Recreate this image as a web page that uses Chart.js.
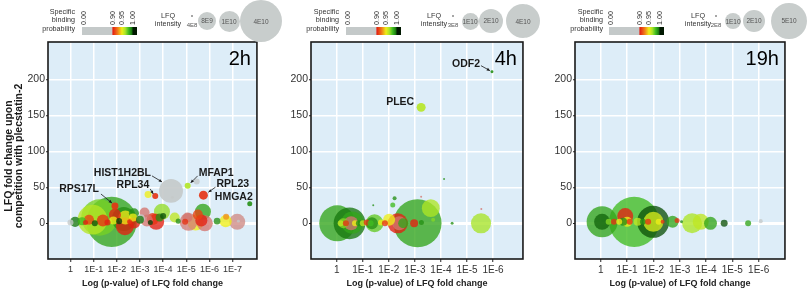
<!DOCTYPE html>
<html>
<head>
<meta charset="utf-8">
<script src="https://cdn.jsdelivr.net/npm/chart.js@4.4.1/dist/chart.umd.min.js"></script>
<style>
  body { margin: 0; background: #fff; font-family: "Liberation Sans", Arial, sans-serif; }
  #wrap { position: relative; width: 810px; height: 291px; overflow: hidden; }
  #wrap canvas { position: absolute; top: 0; }
  .lg { position: absolute; color: #333; font-size: 7.2px; line-height: 8.3px; white-space: nowrap; }
  .bar { position: absolute; height: 8px; }
  .rot { transform: rotate(-90deg); transform-origin: 0 0; }
  .dot { position: absolute; border-radius: 50%; background: #c8cdcc; color: #555; font-size: 6.5px;
         display: flex; align-items: center; justify-content: center; }
</style>
</head>
<body>
<div id="wrap">
  <canvas id="c1" width="282" height="291" style="left:0px"></canvas>
  <canvas id="c2" width="265" height="291" style="left:282px"></canvas>
  <canvas id="c3" width="263" height="291" style="left:547px"></canvas>
</div>
<script>
// x = -log10(p-value), y = LFQ fold change, int = LFQ intensity, prob = specific binding probability

// ── 2h ──
const p1Named     = ['RPS17L', 'RPL34', 'HIST1H2BL', 'MFAP1', 'RPL23', 'HMGA2'];
const p1NamedX    = [1.92, 3.66, 4.34, 5.06, 5.74, 7.74];
const p1NamedY    = [24, 38, 45, 52, 39, 27];
const p1NamedInt  = [1.1e9, 8.2e8, 1.3e10, 8.2e8, 1.8e9, 5.7e8];
const p1NamedProb = [0.905, 0.905, 0.2, 0.963, 0.905, 0.99];

const p1X    = [1.78, 1.25, 0.95, 2.3, 2.35, 3.95, 3.7, 5.4, 5.72, 7.2, 5.1, 5.8, 2.37, 2.75, 1.4, 1.92, 3.55,
                5.65, 6.7, 3.3, 4.5, 2.74, 3.2, 0.8, 0.2, 5.5, 5.05, 3.04, 1.85, 2.7, 3.0, 3.85, 0.5, 3.35,
                5.45, 0.0, 6.33, 6.72, 4.0, 4.65, 4.95, 4.4, 7.25, 1.05, 1.6, 2.1, 2.55, 3.45, 0.65];
const p1Y    = [2, 8, 5, 6, -4, 16, 2, 1, 16, 2, 2, 0, 8, 1, 4, 12, 6,
                4, 3, 4, 8, 14, 15, 5, 2, 12, 8, 7, 4, 8, 5, 8, 3, 40,
                58, 1, 3, 9, 10, 3, 2, 36, 3, 0, 1, 3, 2, 1, 1];
const p1Int  = [5.7e10, 3.0e10, 2.0e10, 1.3e10, 7.3e9, 5.8e9, 5.8e9, 5.8e9, 5.8e9, 5.8e9, 7.3e9, 5.8e9, 4.4e9,
                3.3e9, 3.3e9, 3.3e9, 3.3e9, 3.3e9, 3.3e9, 3.3e9, 2.3e9, 2.3e9, 2.3e9, 2.3e9, 2.3e9, 2.3e9, 2.3e9,
                1.45e9, 1.45e9, 1.45e9, 1.45e9, 1.45e9, 1.45e9, 1.1e9, 8.2e8, 8.2e8, 1.0e9, 8.2e8, 8.2e8, 5.7e8,
                8.2e8, 2.0e8, 2.0e8, 8.2e8, 8.2e8, 8.2e8, 5.7e8, 5.7e8, 5.7e8];
const p1Prob = [0.985, 0.972, 0.962, 0.99, 0.9, 0.968, 0.9, 0.95, 0.985, 0.875, 0.878, 0.88, 0.948, 0.9, 0.905,
                0.9, 0.905, 0.9, 0.95, 0.88, 0.96, 0.99, 0.88, 0.91, 0.995, 0.91, 0.88, 0.2, 0.95, 0.95, 0.995,
                0.99, 0.98, 0.95, 0.3, 0.3, 0.99, 0.93, 0.997, 0.99, 0.905, 0.4, 0.3, 0.997, 0.9, 0.998, 0.905,
                0.998, 0.9];

// ── 4h ──
const p2Named     = ['ODF2', 'PLEC'];
const p2NamedX    = [5.96, 3.24];
const p2NamedY    = [210.6, 161];
const p2NamedInt  = [3.1e8, 2.8e9];
const p2NamedProb = [0.99, 0.962];

const p2X    = [3.1, 0.02, 0.49, 0.6, 5.54, 2.34, 1.45, 3.61, 0.55, 2.4, 2.01, 1.35, 0.25, 2.55, 2.97,
                0.15, 0.35, 0.7, 0.85, 1.0, 1.15, 1.3, 1.7, 1.85, 2.15, 2.22, 3.25, 3.7, 1.4, 4.12, 3.24, 4.43, 5.55];
const p2Y    = [0, 0, 0, 1, 0, 0, 0, 21, 0, 0, 5, 0, 0, 0, 0,
                0, 0, 0, 0, 0, 1, 0, 1, 0, 25.4, 34.7, 1, 5, 25, 61.5, 37, 0, 20];
const p2Int  = [8.0e10, 4.5e10, 3.5e10, 1.7e10, 1.4e10, 1.4e10, 1.1e10, 1.1e10, 6.8e9, 6.8e9, 5.0e9, 5.0e9, 3.5e9,
                3.5e9, 2.2e9, 1.25e9, 1.25e9, 1.25e9, 1.25e9, 1.25e9, 1.25e9, 1.25e9, 1.25e9, 1.25e9, 8.7e8,
                5.5e8, 8.7e8, 5.5e8, 1.4e8, 1.4e8, 1.4e8, 3.1e8, 1.4e8];
const p2Prob = [0.985, 0.985, 0.995, 0.985, 0.965, 0.9, 0.975, 0.964, 0.88, 0.88, 0.95, 0.99, 0.97, 0.985, 0.9,
                0.96, 0.905, 0.95, 0.99, 0.96, 0.905, 0.98, 0.95, 0.905, 0.98, 0.99, 0.99, 0.97, 0.99, 0.99,
                0.88, 0.99, 0.88];

// ── 19h ──
const p3X    = [1.27, 0.05, 1.99, 2.0, 3.47, 0.93, 3.8, 0.05, 4.17, 2.73, 1.0, 0.85, 1.4,
                0.3, 0.5, 0.7, 1.1, 1.6, 1.8, 2.2, 2.35, 4.69, 5.6, 2.9, 3.07, 6.08];
const p3Y    = [2, 2, 2, 2, 0, 10, 2, 2, 0, 2, 2, 2, 2,
                2, 2, 2, 2, 2, 2, 2, 2, 0, 0, 4, 2, 3];
const p3Int  = [9.8e10, 3.75e10, 4.0e10, 1.56e10, 1.56e10, 1.0e10, 1.0e10, 1.0e10, 6.6e9, 5.6e9, 3.9e9, 2.5e9,
                2.5e9, 1.4e9, 1.4e9, 1.4e9, 1.4e9, 1.4e9, 1.4e9, 1.4e9, 6.3e8, 1.9e9, 1.4e9, 9.8e8, 3.5e8, 6.3e8];
const p3Prob = [0.98, 0.985, 0.997, 0.955, 0.964, 0.9, 0.96, 0.996, 0.985, 0.985, 0.95, 0.99, 0.96,
                0.97, 0.905, 0.95, 0.905, 0.99, 0.905, 0.95, 0.905, 0.997, 0.985, 0.905, 0.99, 0.3];

// axis ticks / legend breaks
const fcTicks      = [0, 50, 100, 150, 200];
const p1PvalTicks  = [0, 1, 2, 3, 4, 5, 6, 7];
const p23PvalTicks = [0, 1, 2, 3, 4, 5, 6];
const probBreaks   = [0, 0.9, 0.95, 1.0];
const probLabels   = ['0.00', '0.90', '0.95', '1.00'];
const p1SizeBreaks = [4e8, 8e9, 1e10, 4e10];
const p1SizeLabels = ['4E8', '8E9', '1E10', '4E10'];
const p2SizeBreaks = [3e8, 1e10, 2e10, 4e10];
const p2SizeLabels = ['3E8', '1E10', '2E10', '4E10'];
const p3SizeBreaks = [2e8, 1e10, 2e10, 5e10];
const p3SizeLabels = ['2E8', '1E10', '2E10', '5E10'];

const FONT = '"Liberation Sans", Arial, sans-serif';

// probability -> colour (grey below 0.9, then red-yellow-green-black)
const colorStops = [
  [0.00, [196, 201, 201]],
  [0.86, [196, 201, 201]],
  [0.90, [228, 32, 18]],
  [0.925, [240, 120, 24]],
  [0.95, [238, 238, 24]],
  [0.965, [168, 228, 40]],
  [0.98, [64, 188, 32]],
  [0.995, [24, 120, 16]],
  [1.00, [0, 24, 0]],
];
function probRGB(p) {
  for (let i = 1; i < colorStops.length; i++) {
    const [p1, c1] = colorStops[i];
    const [p0, c0] = colorStops[i - 1];
    if (p <= p1) {
      const t = (p - p0) / (p1 - p0 || 1);
      return c0.map((c, k) => Math.round(c + (c1[k] - c) * t));
    }
  }
  return colorStops[colorStops.length - 1][1];
}
const probColor = (p, a) => `rgba(${probRGB(p).join(',')},${a})`;
const bubbleR = (v, k) => k * Math.sqrt(v / 1e10);

// ── plot decorations: panel background, frame, tag, gene labels, y title ──
const panelDecor = {
  id: 'panelDecor',
  beforeDraw(chart) {
    const { ctx, chartArea: a } = chart;
    ctx.save();
    ctx.fillStyle = '#ddedf8';
    ctx.fillRect(a.left, a.top, a.width, a.height);
    ctx.restore();
  },
  afterDraw(chart, args, opts) {
    const { ctx, chartArea: a } = chart;
    ctx.save();
    ctx.strokeStyle = '#1a1a1a';
    ctx.lineWidth = 1.6;
    ctx.strokeRect(a.left, a.top, a.width, a.height);

    ctx.fillStyle = '#000';
    ctx.font = `20px ${FONT}`;
    ctx.textAlign = 'right';
    ctx.textBaseline = 'alphabetic';
    ctx.fillText(opts.tag, a.right - 6, a.top + 23);

    // gene labels on dataset 0
    const meta = chart.getDatasetMeta(0);
    ctx.font = `bold 10.5px ${FONT}`;
    ctx.textBaseline = 'middle';
    (opts.names || []).forEach((name, i) => {
      const pt = meta.data[i];
      const s = opts.place[name];
      ctx.fillStyle = '#1a1a1a';
      ctx.textAlign = s.align;
      ctx.fillText(name, pt.x + s.dx, pt.y + s.dy);
      if (s.arrow) {
        const [x1, y1, x2, y2] = s.arrow.map((v, k) => v + (k % 2 ? pt.y : pt.x));
        ctx.strokeStyle = '#1a1a1a';
        ctx.lineWidth = 0.8;
        ctx.beginPath(); ctx.moveTo(x1, y1); ctx.lineTo(x2, y2); ctx.stroke();
        const ang = Math.atan2(y2 - y1, x2 - x1);
        ctx.beginPath();
        ctx.moveTo(x2, y2);
        ctx.lineTo(x2 - 3.5 * Math.cos(ang - 0.45), y2 - 3.5 * Math.sin(ang - 0.45));
        ctx.lineTo(x2 - 3.5 * Math.cos(ang + 0.45), y2 - 3.5 * Math.sin(ang + 0.45));
        ctx.closePath();
        ctx.fill();
      }
    });

    if (opts.yTitle) {
      ctx.translate(0, 156);
      ctx.rotate(-Math.PI / 2);
      ctx.font = `bold 10.5px ${FONT}`;
      ctx.textAlign = 'center';
      ctx.fillStyle = '#1a1a1a';
      ctx.fillText(opts.yTitle[0], 0, 9.5);
      ctx.fillText(opts.yTitle[1], 0, 19.5);
    }
    ctx.restore();
  },
};

function makePanel(c) {
  const named = (c.named || []).map((n, i) => ({ x: c.namedX[i], y: c.namedY[i], r: bubbleR(c.namedInt[i], c.k) }));
  const rest = c.x.map((x, i) => ({ x, y: c.y[i], r: bubbleR(c.int[i], c.k) }));
  return new Chart(document.getElementById(c.id), {
    type: 'bubble',
    data: {
      datasets: [
        { label: 'labelled', data: named, backgroundColor: (c.namedProb || []).map(p => probColor(p, 0.9)), borderWidth: 0 },
        { label: 'proteins', data: rest, backgroundColor: c.prob.map(p => probColor(p, 0.78)), borderWidth: 0 },
      ],
    },
    options: {
      responsive: false,
      animation: false,
      events: [],
      layout: { padding: { top: 42, right: c.padRight, left: 0, bottom: 0 } },
      plugins: {
        legend: { display: false },
        tooltip: { enabled: false },
        panelDecor: { tag: c.tag, names: c.named, place: c.place || {}, yTitle: c.yTitle },
      },
      scales: {
        x: {
          type: 'linear', min: c.xMin, max: c.xMax,
          afterBuildTicks: s => { s.ticks = c.xTicks.map(v => ({ value: v })); },
          afterFit: s => { s.height = 32; },
          ticks: {
            callback: v => (v === 0 ? '1' : '1E-' + v),
            font: { family: FONT, size: c.xTickSize }, color: '#333', padding: 2, maxRotation: 0, autoSkip: false,
          },
          grid: { color: '#fff', lineWidth: 1.5, tickLength: 3, tickColor: '#222', tickWidth: 1 },
          border: { display: false },
          title: {
            display: true, text: 'Log (p-value) of LFQ fold change', color: '#222',
            font: { family: FONT, size: 9, weight: 'bold' }, padding: { top: 0, bottom: 2 },
          },
        },
        y: {
          type: 'linear', min: -49.6, max: 251.8,
          afterBuildTicks: s => { s.ticks = fcTicks.map(v => ({ value: v })); },
          afterFit: s => { s.width = c.yAxisW; },
          ticks: { font: { family: FONT, size: 10.5 }, color: '#333', padding: 1 },
          grid: {
            color: '#fff', lineWidth: ctx => (ctx.tick && ctx.tick.value === 0 ? 3 : 1.5),
            tickLength: 2, tickColor: '#222', tickWidth: 1,
          },
          border: { display: false },
        },
      },
    },
    plugins: [panelDecor],
  });
}

makePanel({
  id: 'c1', tag: '2h', k: 10.5, xMin: -0.97, xMax: 8.05, xTicks: p1PvalTicks, xTickSize: 9,
  yAxisW: 48, padRight: 4,
  named: p1Named, namedX: p1NamedX, namedY: p1NamedY, namedInt: p1NamedInt, namedProb: p1NamedProb,
  x: p1X, y: p1Y, int: p1Int, prob: p1Prob,
  yTitle: ['LFQ fold change upon', 'competition with plecstatin-2'],
  place: {
    RPS17L:    { dx: -16, dy: -17, align: 'right', arrow: [-14, -12, -3, -3] },
    RPL34:     { dx: -6,  dy: -11, align: 'right', arrow: [-5, -7, -2, -2] },
    HIST1H2BL: { dx: -20, dy: -18, align: 'right', arrow: [-19, -15, -9, -9] },
    MFAP1:     { dx: 11,  dy: -13, align: 'left',  arrow: [10, -10, 3, -3] },
    RPL23:     { dx: 13,  dy: -11, align: 'left',  arrow: [12, -8, 5, -3] },
    HMGA2:     { dx: 3,   dy: -7,  align: 'right' },
  },
});
makePanel({
  id: 'c2', tag: '4h', k: 8.5, xMin: -0.99, xMax: 7.15, xTicks: p23PvalTicks, xTickSize: 10,
  yAxisW: 29, padRight: 4,
  named: p2Named, namedX: p2NamedX, namedY: p2NamedY, namedInt: p2NamedInt, namedProb: p2NamedProb,
  x: p2X, y: p2Y, int: p2Int, prob: p2Prob,
  place: {
    ODF2: { dx: -12, dy: -8, align: 'right', arrow: [-11, -6, -2, -1] },
    PLEC: { dx: -7,  dy: -5, align: 'right' },
  },
});
makePanel({
  id: 'c3', tag: '19h', k: 8, xMin: -0.98, xMax: 7.0, xTicks: p23PvalTicks, xTickSize: 10,
  yAxisW: 28, padRight: 4,
  x: p3X, y: p3Y, int: p3Int, prob: p3Prob,
});

// ── legends above each panel (html) ──
const wrap = document.getElementById('wrap');
function el(cls, css, html) {
  const d = document.createElement('div');
  d.className = cls;
  d.style.cssText = css;
  if (html != null) d.innerHTML = html;
  wrap.appendChild(d);
  return d;
}
const BAR_W = 55;
const barFrac = p => {
  const xs = [0, 0.9, 0.95, 1.0], fs = [2 / BAR_W, 31 / BAR_W, 40 / BAR_W, 51 / BAR_W];
  for (let i = 1; i < xs.length; i++) if (p <= xs[i]) return fs[i - 1] + (fs[i] - fs[i - 1]) * (p - xs[i - 1]) / (xs[i] - xs[i - 1]);
  return fs[fs.length - 1];
};
const barGradient = 'linear-gradient(to right,' +
  [`${probColor(0, 1)} 0%`].concat(colorStops.map(([p]) => `${probColor(p, 1)} ${(barFrac(p) * 100).toFixed(1)}%`),
  [`${probColor(1, 1)} 100%`]).join(',') + ')';

function legend(L) {
  el('lg', `left:${L.probRight - 60}px;top:8px;width:60px;text-align:right;`, 'Specific<br>binding<br>probability');
  el('bar', `left:${L.barLeft}px;top:27px;width:${BAR_W}px;background:${barGradient};`);
  probBreaks.forEach((p, i) => {
    el('lg rot', `left:${L.barLeft + barFrac(p) * BAR_W - 4}px;top:25px;line-height:8px;`, probLabels[i]);
  });
  el('lg', `left:${L.lfqCenter - 25}px;top:12px;width:50px;text-align:center;`, 'LFQ<br>intensity');
  L.breaks.forEach((v, i) => {
    const r = bubbleR(v, L.k), x = L.xs[i];
    if (r < 3) {
      el('dot', `left:${x - 1}px;top:15px;width:2px;height:2px;background:#888;`);
      el('lg', `left:${x - 10}px;top:21px;width:20px;text-align:center;font-size:6px;color:#555;`, L.labels[i]);
    } else {
      el('dot', `left:${x - r}px;top:${21 - r}px;width:${2 * r}px;height:${2 * r}px;`, L.labels[i]);
    }
  });
}
legend({ probRight: 75, barLeft: 82, lfqCenter: 168, k: 10.5, breaks: p1SizeBreaks, labels: p1SizeLabels, xs: [192, 207, 229, 261] });
legend({ probRight: 339, barLeft: 346, lfqCenter: 434, k: 8.5, breaks: p2SizeBreaks, labels: p2SizeLabels, xs: [453, 470, 491, 523] });
legend({ probRight: 603, barLeft: 609, lfqCenter: 698, k: 8, breaks: p3SizeBreaks, labels: p3SizeLabels, xs: [716, 733, 754, 789] });
</script>
</body>
</html>
